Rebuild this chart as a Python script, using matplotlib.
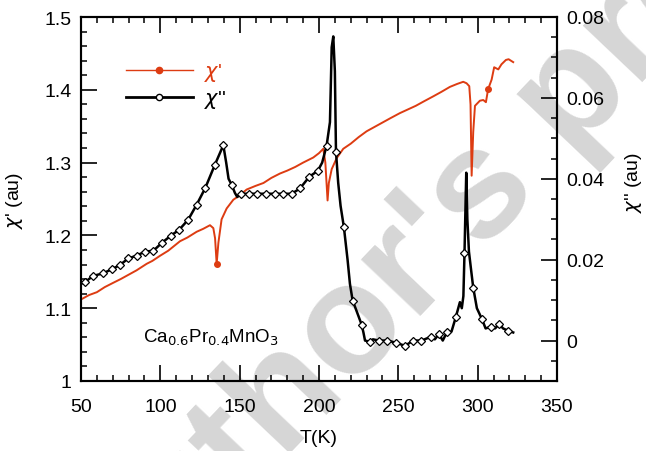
import matplotlib
matplotlib.use("Agg")
import matplotlib.pyplot as plt
from matplotlib.lines import Line2D
import numpy as np

plt.rcParams['font.family'] = ['Liberation Sans', 'DejaVu Sans']
plt.rcParams['mathtext.fontset'] = 'dejavusans'

# ---------------- data ----------------
# chi' (left axis)
chi1_T = [50, 55, 60, 65, 70.4, 75, 80, 85, 91.4, 95, 99.8, 105, 112.4, 117, 122.9, 127,
          131.3, 133.4, 134.5, 135.5, 136.6, 138.6, 141.8, 146, 150, 154.4, 160, 165, 170,
          175.4, 180, 185, 190, 196.4, 200, 202.7, 204.0, 205.4, 206.2, 208, 211.1, 215.3,
          220, 225, 230, 235, 240, 245, 251, 256, 261, 266, 272, 277, 282.5, 287, 290.9,
          293, 294.7, 295.5, 296.2, 297.2, 298.3, 301.4, 303.5, 305.2, 306.6, 308.8, 310.4,
          313, 315, 317.8, 319.5, 322.4]
chi1_v = [1.112, 1.118, 1.122, 1.129, 1.135, 1.140, 1.146, 1.152, 1.161, 1.165, 1.172, 1.179,
          1.192, 1.197, 1.205, 1.209, 1.214, 1.210, 1.196, 1.161, 1.190, 1.222, 1.237, 1.249,
          1.255, 1.263, 1.268, 1.272, 1.279, 1.285, 1.289, 1.294, 1.300, 1.307, 1.313, 1.319,
          1.300, 1.248, 1.272, 1.291, 1.306, 1.319, 1.326, 1.335, 1.343, 1.349, 1.355, 1.361,
          1.368, 1.373, 1.378, 1.384, 1.391, 1.397, 1.404, 1.408, 1.411, 1.409, 1.405, 1.380,
          1.282, 1.342, 1.378, 1.385, 1.386, 1.383, 1.401, 1.414, 1.431, 1.428, 1.435, 1.441,
          1.442, 1.438]
chi1_mark = [0, 0, 0, 0, 0, 0, 0, 0, 0, 0, 0, 0, 0, 0, 0, 0, 0, 0, 0, 1, 0, 0, 0, 0, 0, 0,
             0, 0, 0, 0, 0, 0, 0, 0, 0, 0, 0, 0, 0, 0, 0, 0, 0, 0, 0, 0, 0, 0, 0, 0, 0, 0, 0,
             0, 0, 0, 0, 0, 0, 0, 0, 0, 0, 0, 0, 0, 1, 0, 0, 0, 0, 0, 0, 0]

# chi'' (right axis)
chi2_T = [50.0, 52.5, 57.8, 63.7, 69.3, 74.6, 79.8, 85.1, 90.3, 95.6, 100.8, 106.5, 111.9,
          117.6, 122.9, 128.3, 134.2, 139.7, 141.5, 143.0, 145.0, 147.0, 148.5, 150.6, 155.9,
          161.1, 166.6, 172.2, 177.5, 182.8, 188.0, 193.9, 199.3, 202.0, 204.8, 206.9, 208.0,
          209.0, 210.0, 210.7, 212.1, 213.6, 215.7, 218.0, 219.5, 221.2, 223.5, 226.9, 228.0,
          229.0, 232.1, 234.0, 237.8, 243.0, 248.3, 254.2, 259.4, 264.6, 270.3, 273.0, 275.6,
          278.0, 280.8, 283.5, 286.3, 288.8, 290.0, 291.0, 291.7, 292.8, 293.5, 294.5, 296.0,
          297.2, 299.5, 302.7, 305.0, 308.2, 311.0, 313.6, 316.0, 319.3, 322.4]
chi2_v = [0.0140, 0.0145, 0.0160, 0.0166, 0.0176, 0.0187, 0.0203, 0.0210, 0.0220, 0.0222,
          0.0241, 0.0259, 0.0274, 0.0299, 0.0336, 0.0377, 0.0433, 0.0483, 0.0440, 0.0400,
          0.0385, 0.0365, 0.0355, 0.0363, 0.0363, 0.0363, 0.0363, 0.0363, 0.0363, 0.0363,
          0.0376, 0.0405, 0.0420, 0.0440, 0.0482, 0.0540, 0.0725, 0.0752, 0.0666, 0.0467,
          0.0390, 0.0333, 0.0280, 0.0200, 0.0140, 0.0099, 0.0075, 0.0039, 0.0020, 0.0000,
          -0.0003, 0.0003, 0.0000, 0.0000, -0.0005, -0.0013, 0.0000, 0.0000, 0.0009, 0.0003,
          0.0016, 0.0000, 0.0022, 0.0022, 0.0059, 0.0095, 0.0080, 0.0110, 0.0216, 0.0415,
          0.0300, 0.0220, 0.0170, 0.0131, 0.0080, 0.0053, 0.0030, 0.0034, 0.0030, 0.0041,
          0.0030, 0.0024, 0.0020]
chi2_mark = [0, 1, 1, 1, 1, 1, 1, 1, 1, 1, 1, 1, 1, 1, 1, 1, 1, 1, 0, 0, 1, 0, 0, 1, 1, 1, 1,
             1, 1, 1, 1, 1, 1, 0, 1, 0, 0, 0, 0, 1, 0, 0, 1, 0, 0, 1, 0, 1, 0, 0, 1, 0, 1, 1,
             1, 1, 1, 1, 1, 0, 1, 0, 1, 0, 1, 0, 0, 0, 1, 0, 0, 0, 0, 1, 0, 1, 0, 1, 0, 1, 0,
             1, 0]

x_ticks = [50, 100, 150, 200, 250, 300, 350]
y1_ticks = [1, 1.1, 1.2, 1.3, 1.4, 1.5]
y1_labels = ['1', '1.1', '1.2', '1.3', '1.4', '1.5']
y2_ticks = [0, 0.02, 0.04, 0.06, 0.08]
y2_labels = ['0', '0.02', '0.04', '0.06', '0.08']

ORANGE = '#dd3c12'

# ---------------- figure ----------------
fig = plt.figure(figsize=(6.46, 4.52), dpi=100)
W, H = 646, 452
ax = fig.add_axes([81 / W, 1 - 382 / H, (557 - 81) / W, (382 - 18) / H])
ax.set_facecolor('none')
ax2 = ax.twinx()

# watermark
fig.text(0.688, 0.488, "Author's proof", rotation=46.5, fontsize=112, fontweight='bold',
         color='#d6d6d6', ha='center', va='center', rotation_mode='anchor', zorder=-5)

m1 = [i for i, f in enumerate(chi1_mark) if f]
ax.plot(chi1_T, chi1_v, color=ORANGE, lw=1.4, marker='o', ms=4, markevery=m1, zorder=3)

m2 = [i for i, f in enumerate(chi2_mark) if f]
ax2.plot(chi2_T, chi2_v, color='black', lw=1.8, marker='D', ms=4.2, mfc='white',
         mec='black', mew=0.9, markevery=m2, zorder=3)

ax.set_xlim(50, 350)
ax.set_ylim(1, 1.5)
ax2.set_ylim(-0.01, 0.08)

ax.set_xticks(x_ticks)
ax.set_xticklabels([str(t) for t in x_ticks])
ax.set_xticks(np.arange(50, 351, 10), minor=True)
ax.set_yticks(y1_ticks)
ax.set_yticklabels(y1_labels)
ax.set_yticks(np.arange(1, 1.501, 0.02), minor=True)
ax2.set_yticks(y2_ticks)
ax2.set_yticklabels(y2_labels)
ax2.set_yticks(np.arange(-0.01, 0.0801, 0.005), minor=True)

for a in (ax, ax2):
    for s in a.spines.values():
        s.set_linewidth(1.5)

ax.tick_params(axis='x', which='both', direction='in', top=True, bottom=True, labelsize=14,
               pad=12)
ax.tick_params(axis='y', which='both', direction='in', left=True, right=False, labelsize=14,
               pad=7)
ax.tick_params(which='major', length=11.5, width=1.2)
ax.tick_params(which='minor', length=4.5, width=1.1)
ax2.tick_params(axis='y', which='both', direction='in', right=True, labelsize=14, pad=7)
ax2.tick_params(which='major', length=11.5, width=1.2)
ax2.tick_params(which='minor', length=4.5, width=1.1)

ax.set_xlabel('T(K)', fontsize=14, labelpad=10)
ax.set_ylabel(r"$\chi$' (au)", fontsize=14)
ax2.set_ylabel(r"$\chi$'' (au)", fontsize=14)
ax.yaxis.set_label_coords(-0.118, 0.5)
ax2.yaxis.set_label_coords(1.139, 0.547)

ax.text(0.13, 0.107, r'Ca$_{0.6}$Pr$_{0.4}$MnO$_{3}$', transform=ax.transAxes, fontsize=13.5,
        ha='left', va='baseline', zorder=4)

h1 = Line2D([], [], color=ORANGE, lw=1.0, marker='o', ms=4.5)
h2 = Line2D([], [], color='black', lw=2.0, marker='o', ms=4.5, mfc='white', mec='black', mew=1)
leg = ax.legend([h1, h2], [r"$\chi$'", r"$\chi$''"], loc='upper left',
                bbox_to_anchor=(0.055, 0.93), frameon=False, fontsize=15, handlelength=3.2,
                handletextpad=0.55, labelspacing=0.25)
leg.get_texts()[0].set_color(ORANGE)

fig.savefig('out.png', dpi=100)
